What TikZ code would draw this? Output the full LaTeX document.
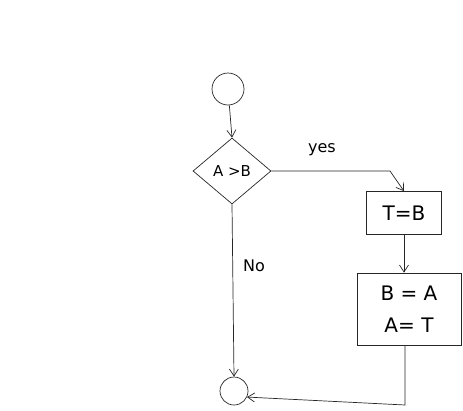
\documentclass[tikz,border=0pt]{standalone}
\usepackage{fontspec}
\setmainfont{DejaVu Sans}
\usetikzlibrary{shapes.geometric,arrows.meta}
\begin{document}
\begin{tikzpicture}[x=1pt,y=-1pt,
  line/.style={draw=black!85,line width=0.7pt},
  arr/.style={line,-{Straight Barb[length=7pt,width=9pt]}},
  term/.style={line,circle,minimum size=#1,inner sep=0pt},
  decision/.style={line,diamond,minimum width=78pt,minimum height=66pt,inner sep=0pt,font=\fontsize{15}{17}\selectfont},
  procbox/.style={line,rectangle,inner sep=0pt,font=\fontsize{20}{24}\selectfont},
  lbl/.style={font=\fontsize{16}{18}\selectfont}]
\useasboundingbox (0,0) rectangle (463,410);
\node[term=32pt] (start) at (228,89) {};
\node[decision] (dec) at (232,171) {A >B};
\node[procbox,minimum width=75pt,minimum height=43pt] (tb) at (404,213) {T=B};
\node[procbox,minimum width=104pt,minimum height=72pt,align=center] (ba) at (409,309) {B = A\\[8pt]A= T};
\node[term=28pt] (end) at (234,391) {};
\coordinate (yc) at (390,171);
\coordinate (rc) at (405,405);
\draw[arr] (start) -- (dec.north);
\draw[arr] (dec.east) -- (yc) -- (tb.north);
\draw[arr] (tb.south) -- (tb.south |- ba.north);
\draw[arr] (dec.south) -- (end.north);
\draw[arr] (ba.south -| rc) -- (rc) -- (end.-25);
\node[lbl] (yes) at (322,150) {yes};
\node[lbl] (no) at (254,266) {No};
\end{tikzpicture}
\end{document}
